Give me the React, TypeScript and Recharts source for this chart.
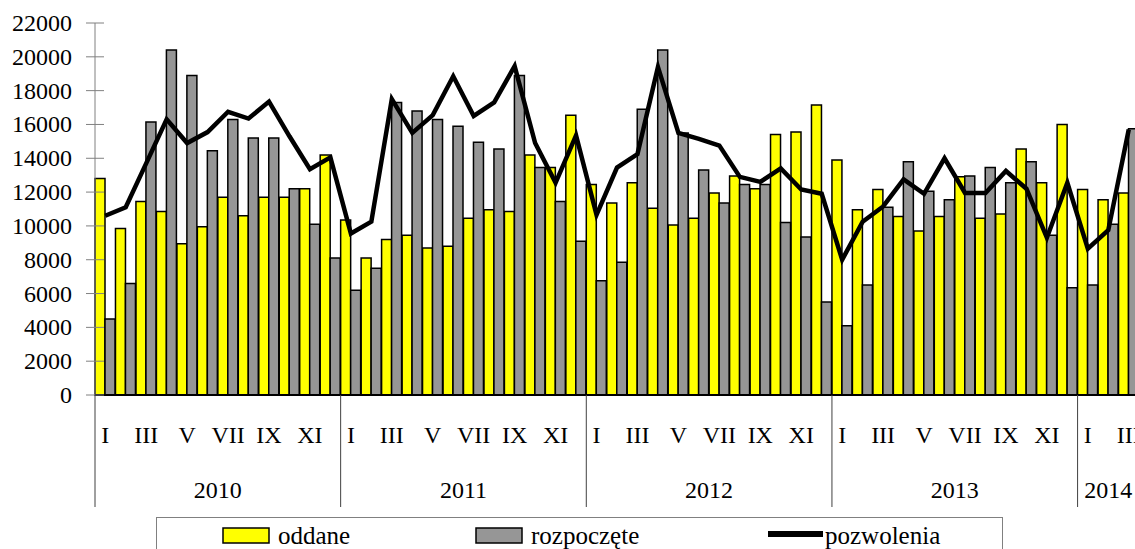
import { ComposedChart, Bar, Line, XAxis, YAxis } from "recharts";

// monthly values 2010 I – 2014 III
const years = ["2010", "2011", "2012", "2013", "2014"];
const months = ["I", "II", "III", "IV", "V", "VI", "VII", "VIII", "IX", "X", "XI", "XII"];
const yTicks = [0, 2000, 4000, 6000, 8000, 10000, 12000, 14000, 16000, 18000, 20000, 22000];

const oddane = [
  12800, 9850, 11450, 10850, 8950, 9950, 11700, 10600, 11700, 11700, 12200, 14200,
  10350, 8100, 9200, 9450, 8700, 8800, 10450, 10950, 10850, 14200, 13450, 16550,
  12450, 11350, 12550, 11050, 10050, 10450, 11950, 12950, 12200, 15400, 15550, 17150,
  13900, 10950, 12150, 10550, 9700, 10550, 12900, 10450, 10700, 14550, 12550, 16000,
  12150, 11550, 11950,
];

const rozpoczete = [
  4500, 6600, 16150, 20400, 18900, 14450, 16300, 15200, 15200, 12200, 10100, 8100,
  6200, 7500, 17300, 16800, 16300, 15900, 14950, 14550, 18900, 13450, 11450, 9100,
  6750, 7850, 16900, 20400, 15500, 13300, 11350, 12450, 12450, 10200, 9350, 5500,
  4100, 6500, 11100, 13800, 12050, 11550, 12950, 13450, 12550, 13800, 9450, 6350,
  6500, 10100, 15750,
];

const pozwolenia = [
  10600, 11100, 13700, 16300, 14900, 15550, 16750, 16350, 17350, 15300, 13350, 14050,
  9550, 10250, 17500, 15500, 16550, 18850, 16500, 17300, 19450, 14900, 12550, 15350,
  10650, 13450, 14250, 19400, 15500, 15150, 14750, 12900, 12600, 13400, 12150, 11900,
  8000, 10250, 11150, 12750, 11900, 14000, 11950, 11950, 13250, 12200, 9300, 12550,
  8650, 9750, 15700,
];

const data = oddane.map((v, i) => ({
  year: years[Math.floor(i / 12)],
  month: months[i % 12],
  oddane: v,
  rozpoczete: rozpoczete[i],
  pozwolenia: pozwolenia[i],
}));

const FONT = "'Liberation Serif', 'Times New Roman', serif";
const CHART_W = 1150;
const CHART_H = 549;
const Y_W = 95;
const M_RIGHT = 11;
const BAND = (CHART_W - Y_W - M_RIGHT) / data.length;
const AXIS_Y = 395;

function YTick({ y, payload }: any) {
  return (
    <g>
      <line x1={86} x2={104} y1={y} y2={y} stroke="#808080" strokeWidth={1} />
      <text x={72} y={y} dy={8} textAnchor="end" fontFamily={FONT} fontSize={24} fill="#000">
        {payload.value}
      </text>
    </g>
  );
}

function XTick({ x, payload }: any) {
  const i = payload.index;
  const d = data[i];
  const mi = i % 12;
  const yearStart = i - mi;
  const n = Math.min(12, data.length - yearStart);
  let yearX: number | null = null;
  if (n % 2 === 0 && mi === n / 2) yearX = x - BAND / 2;
  if (n % 2 === 1 && mi === (n - 1) / 2) yearX = x;
  return (
    <g>
      {mi === 0 && (
        <line x1={x - BAND / 2} x2={x - BAND / 2} y1={AXIS_Y} y2={507} stroke="#404040" strokeWidth={1} />
      )}
      {mi % 2 === 0 && (
        <text x={x} y={443} textAnchor="middle" fontFamily={FONT} fontSize={24} fill="#000">
          {d.month}
        </text>
      )}
      {yearX !== null && (
        <text x={yearX} y={498} textAnchor="middle" fontFamily={FONT} fontSize={24} fill="#000">
          {d.year}
        </text>
      )}
    </g>
  );
}

function LegendBox() {
  return (
    <svg
      width={1135}
      height={549}
      style={{ position: "absolute", left: 0, top: 0, pointerEvents: "none" }}
    >
      <rect x={156.5} y={517.5} width={846} height={60} fill="#fff" stroke="#808080" strokeWidth={1} />
      <rect x={223} y={528} width={46} height={15} fill="#FFFF00" stroke="#000" strokeWidth={1.5} />
      <text x={278} y={544} fontFamily={FONT} fontSize={25} fill="#000">oddane</text>
      <rect x={476} y={528} width={46} height={15} fill="#969696" stroke="#000" strokeWidth={1.5} />
      <text x={531} y={544} fontFamily={FONT} fontSize={25} fill="#000">rozpoczęte</text>
      <rect x={768} y={531} width={55} height={6} fill="#000" />
      <text x={825} y={544} fontFamily={FONT} fontSize={25} fill="#000">pozwolenia</text>
    </svg>
  );
}

export default function App() {
  return (
    <div
      style={{
        position: "fixed",
        left: 0,
        top: 0,
        width: 1135,
        height: 549,
        overflow: "hidden",
        background: "#fff",
      }}
    >
      <ComposedChart
        width={CHART_W}
        height={CHART_H}
        data={data}
        margin={{ top: 23, right: M_RIGHT, bottom: 42, left: 0 }}
        barCategoryGap={0}
        barGap={0}
      >
        <YAxis
          width={Y_W}
          domain={[0, 22000]}
          ticks={yTicks}
          interval={0}
          tickLine={false}
          axisLine={{ stroke: "#808080", strokeWidth: 1 }}
          tick={<YTick />}
        />
        <XAxis
          dataKey="month"
          height={112}
          interval={0}
          tickLine={false}
          axisLine={{ stroke: "#000", strokeWidth: 2 }}
          tick={<XTick />}
        />
        <Bar dataKey="oddane" fill="#FFFF00" stroke="#000" strokeWidth={1.5} isAnimationActive={false} />
        <Bar dataKey="rozpoczete" fill="#969696" stroke="#000" strokeWidth={1.5} isAnimationActive={false} />
        <Line
          type="linear"
          dataKey="pozwolenia"
          stroke="#000"
          strokeWidth={4.5}
          dot={false}
          activeDot={false}
          isAnimationActive={false}
        />
      </ComposedChart>
      <LegendBox />
    </div>
  );
}
